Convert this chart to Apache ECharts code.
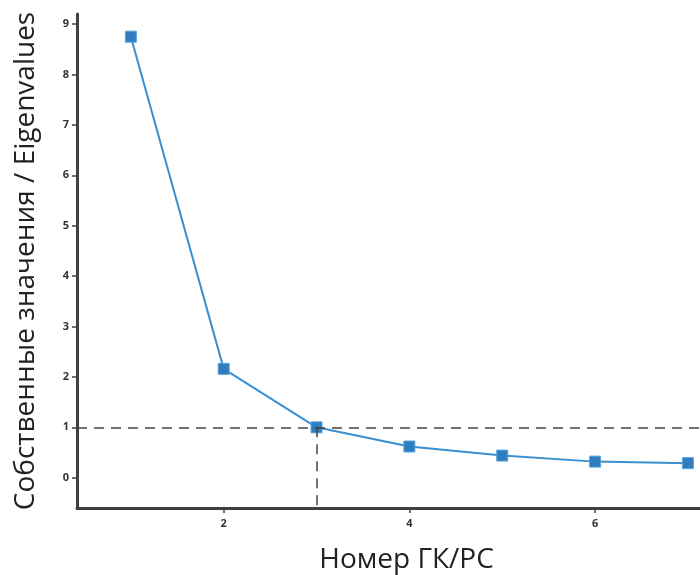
<!DOCTYPE html>
<html><head><meta charset="utf-8">
<script src="https://cdn.jsdelivr.net/npm/echarts@6/dist/echarts.min.js"></script>
<style>html,body{margin:0;padding:0;background:#fff}#c{width:700px;height:575px}</style>
</head><body><div id="c"></div>
<script>
var components = [1, 2, 3, 4, 5, 6, 7];
var eigenvalues = [8.75, 2.16, 1.0, 0.62, 0.44, 0.32, 0.29];
var xTicks = [2, 4, 6];
var yTicks = [0, 1, 2, 3, 4, 5, 6, 7, 8, 9];
var threshold = 1;
var elbowX = 3;
var yTitle = 'Собственные значения / Eigenvalues';
var xTitle = 'Номер ГК/PC';

var chart = echarts.init(document.getElementById('c'));
var axisCol = '#404040';
chart.setOption({
  animation: false,
  grid: {left: 77, top: 14, right: 0, bottom: 67, containLabel: false, outerBoundsMode: 'none'},
  xAxis: {
    type: 'value', min: 0.42, max: 7.13,
    name: xTitle, nameLocation: 'middle', nameGap: 38,
    nameTextStyle: {fontFamily: 'Open Sans', fontSize: 28, color: '#222', padding: [0, 0, 0, 36]},
    axisLine: {onZero: false, lineStyle: {color: axisCol, width: 3}},
    axisTick: {show: true, customValues: xTicks, length: 5, lineStyle: {color: axisCol, width: 1.5}},
    axisLabel: {customValues: xTicks, margin: 10, fontFamily: 'Open Sans', fontWeight: 'bold', fontSize: 11, color: '#333'},
    splitLine: {show: false}
  },
  yAxis: {
    type: 'value', min: -0.6, max: 9.2,
    name: yTitle, nameLocation: 'middle', nameGap: 37, nameRotate: 90,
    nameTextStyle: {fontFamily: 'Open Sans', fontSize: 28, color: '#222'},
    axisLine: {show: true, lineStyle: {color: axisCol, width: 3}},
    axisTick: {show: true, customValues: yTicks, length: 5, lineStyle: {color: axisCol, width: 1.5}},
    axisLabel: {customValues: yTicks, margin: 8, fontFamily: 'Open Sans', fontWeight: 'bold', fontSize: 11, color: '#333'},
    splitLine: {show: false}
  },
  series: [{
    type: 'line',
    data: components.map(function (c, i) { return [c, eigenvalues[i]]; }),
    symbol: 'rect', symbolSize: 11,
    lineStyle: {color: '#3a8fd0', width: 2},
    itemStyle: {color: '#2f7dbf', borderColor: '#5aa3dc', borderWidth: 1},
    z: 3,
    markLine: {
      silent: true, symbol: 'none', label: {show: false},
      lineStyle: {type: [10, 7], color: '#444', width: 1.5},
      data: [
        {yAxis: threshold},
        [{coord: [elbowX, threshold]}, {coord: [elbowX, -0.6]}]
      ]
    }
  }]
});
</script></body></html>
